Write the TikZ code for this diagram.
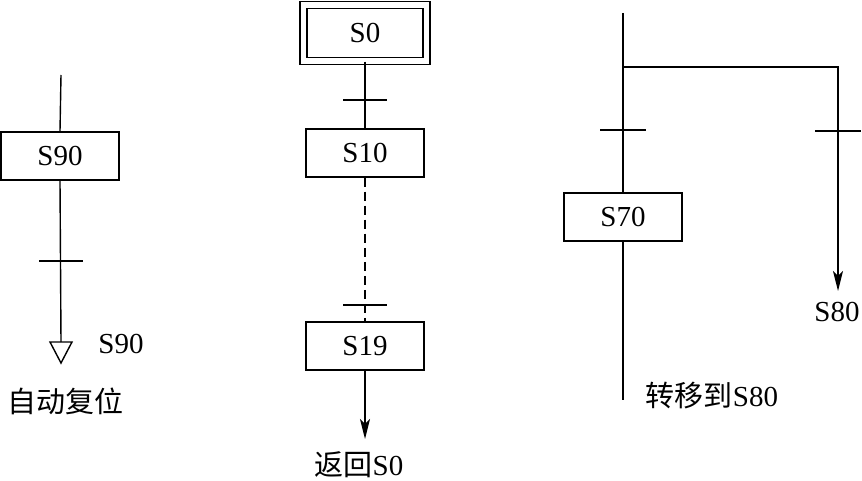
\documentclass[tikz,border=0pt]{standalone}
\usepackage{fontspec}
\setmainfont{Liberation Serif}
\newfontfamily\cjk{Noto Sans CJK SC}
\usetikzlibrary{positioning,arrows.meta}

\begin{document}
\begin{tikzpicture}[
  x=1pt, y=-1pt,
  txt/.style={font=\fontsize{29}{29}\selectfont, inner sep=0pt},
  stepbox/.style={draw, line width=1.5pt, minimum width=118pt, minimum height=48pt,
                  txt},
  initbox/.style={stepbox, double, double distance=5.6pt,
                  minimum width=123pt, minimum height=56pt},
  link/.style={line width=1.4pt},
  dashlink/.style={link, dashed, dash pattern=on 9pt off 5pt},
  arrow/.style={link, -{Stealth[length=20pt,width=10pt,inset=5pt]}},
  tick/.style={line width=1.4pt}
]
  \useasboundingbox (0,0) rectangle (862,481);

  % left: reset to itself
  \node[stepbox] (s90) at (60,156) {S90};
  \coordinate (s90top) at (61,75);
  \coordinate (tri) at (61,342);
  \coordinate (t90) at (61,261);
  \draw[link] (s90top) -- (s90.north);
  \draw[link] (s90.south) -- (tri);
  \draw[tick] ([xshift=-22pt]t90) -- ([xshift=22pt]t90);
  \draw[link] (tri) -- ++(-11,0) -- ++(11,21) -- ++(11,-21) -- cycle;
  \node[txt] (jump90) at (121,344) {S90};
  \node[txt] (reset) at (65,401) {\cjk 自动复位};

  % middle: back to initial step
  \node[initbox] (s0) at (365,33) {S0};
  \node[stepbox] (s10) at (365,153) {S10};
  \node[stepbox] (s19) at (365,346) {S19};
  \coordinate (t0) at (365,100);
  \coordinate (t18) at (365,305);
  \coordinate (ret) at (365,439);
  \draw[link] (s0) -- (s10);
  \draw[dashlink] (s10) -- (s19);
  \draw[tick] ([xshift=-22pt]t0) -- ([xshift=22pt]t0);
  \draw[tick] ([xshift=-22pt]t18) -- ([xshift=22pt]t18);
  \draw[arrow] (s19) -- (ret);
  \node[txt] (back) at (359,465) {{\cjk 返回}S0};

  % right: jump to S80
  \node[stepbox] (s70) at (623,217) {S70};
  \coordinate (rtop) at (623,13);
  \coordinate (rbot) at (623,400);
  \coordinate (fork) at (623,67);
  \coordinate (corner) at (838,67);
  \coordinate (tip80) at (838,291);
  \coordinate (t70) at (623,130);
  \coordinate (t80) at (838,131);
  \draw[link] (rtop) -- (s70.north);
  \draw[link] (s70.south) -- (rbot);
  \draw[arrow] (fork) -- (corner) -- (tip80);
  \draw[tick] ([xshift=-23pt]t70) -- ([xshift=23pt]t70);
  \draw[tick] ([xshift=-23pt]t80) -- ([xshift=23pt]t80);
  \node[txt] (goal80) at (837,312) {S80};
  \node[txt] (jump80) at (712,396) {{\cjk 转移到}S80};
\end{tikzpicture}
\end{document}
